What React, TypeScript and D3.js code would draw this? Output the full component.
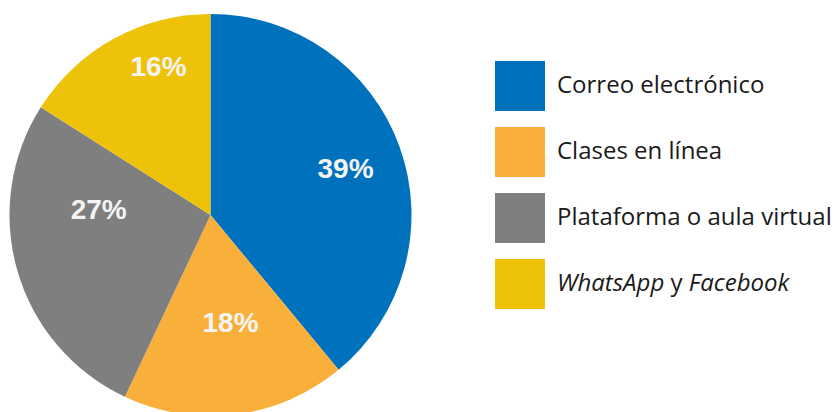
import * as d3 from 'd3'

const categories = ['Correo electrónico', 'Clases en línea', 'Plataforma o aula virtual', 'WhatsApp y Facebook']
const shares = [39, 18, 27, 16]
const labels = ['39%', '18%', '27%', '16%']
const colors = ['#0071bc', '#f9b03b', '#7f7f7f', '#efc20a']

// hand-tuned label placement (radius, angle nudge in degrees)
const labelRadius = [143, 109, 112, 158]
const labelNudge = [0.6, -3.4, 19.3, 9.6]

type Slice = d3.PieArcDatum<number>

function Legend() {
  const y = d3.scalePoint<number>().domain(d3.range(categories.length)).range([86, 284])
  const size = 50
  return (
    <g>
      {categories.map((name, i) => (
        <g key={name} transform={`translate(495,${y(i)})`}>
          <rect x={0} y={-size / 2} width={size} height={size} fill={colors[i]} />
          <text
            x={62}
            y={7}
            fontFamily="'Open Sans', sans-serif"
            fontSize={24}
            fill="#1a1a1a"
          >
            {i === 3 ? (
              <>
                <tspan fontStyle="italic">WhatsApp</tspan> y <tspan fontStyle="italic">Facebook</tspan>
              </>
            ) : (
              name
            )}
          </text>
        </g>
      ))}
    </g>
  )
}

export default function App() {
  const width = 835
  const height = 412
  const cx = 210.5
  const cy = 215
  const radius = 201

  const pie = d3.pie<number>().sort(null).value((d) => d)
  const arcs = pie(shares)
  const arc = d3.arc<Slice>().innerRadius(0).outerRadius(radius)

  const labelPos = (d: Slice, i: number) => {
    const a = (d.startAngle + d.endAngle) / 2 + (labelNudge[i] * Math.PI) / 180
    return [Math.sin(a) * labelRadius[i], -Math.cos(a) * labelRadius[i]]
  }

  return (
    <svg
      width={width}
      height={height}
      viewBox={`0 0 ${width} ${height}`}
      style={{ position: 'fixed', left: 0, top: 0, background: '#fff', display: 'block' }}
    >
      <g transform={`translate(${cx},${cy})`}>
        {arcs.map((d, i) => (
          <path key={i} d={arc(d) ?? ''} fill={colors[i]} />
        ))}
        {arcs.map((d, i) => {
          const [lx, ly] = labelPos(d, i)
          return (
            <text
              key={`l${i}`}
              x={lx}
              y={ly}
              dy="0.36em"
              textAnchor="middle"
              fontFamily="'Liberation Sans', Arial, sans-serif"
              fontWeight="bold"
              fontSize={28}
              fill="#f4f4f4"
            >
              {labels[i]}
            </text>
          )
        })}
      </g>
      <Legend />
    </svg>
  )
}
